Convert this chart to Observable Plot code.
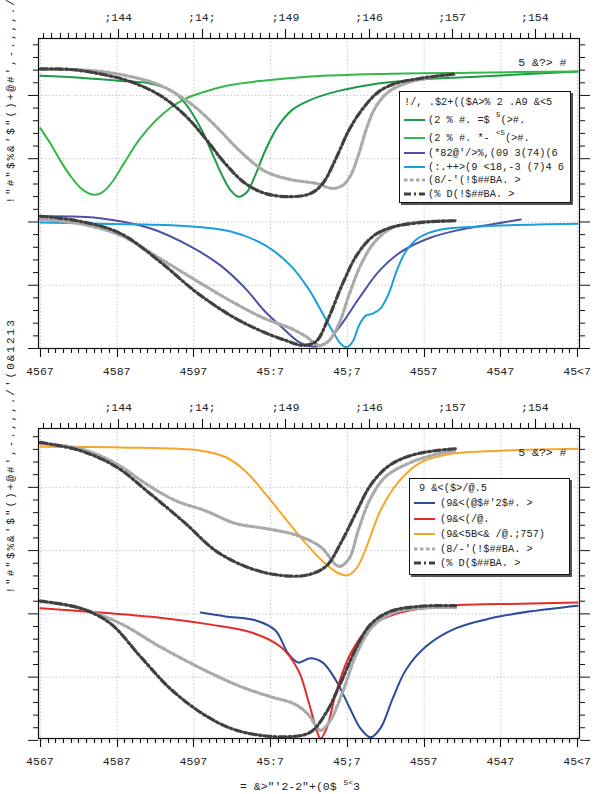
<!DOCTYPE html>
<html><head><meta charset="utf-8">
<script src="https://cdn.jsdelivr.net/npm/d3@7"></script>
<script src="https://cdn.jsdelivr.net/npm/@observablehq/plot@0.6"></script>
<style>
body{margin:0;background:#fff;}
#wrap{position:relative;width:596px;height:794px;overflow:hidden;font-family:"Liberation Mono",monospace;}
#wrap svg{display:block;}
.legend{position:absolute;background:#fff;border:1.3px solid #111;box-shadow:2px 2px 0 #555;font-size:10.3px;color:#222;box-sizing:border-box;}
.legend .row{position:absolute;left:0;white-space:nowrap;line-height:12px;}
.legend sup{font-size:7.5px;vertical-align:6px;line-height:0;}
</style></head><body><div id="wrap"></div>
<script>
// ---------- axis ticks / labels ----------
const bottomTicks = [0,10,20,30,40,50,60,70];
const bottomLabels = ["4567","4587","4597","45:7","45;7","4557","4547","45<7"];
const topTicks = [10.2,21.1,32.0,42.9,53.7,64.5];
const topLabels = [";144",";14;",";149",";146",";157",";154"];
const yMajor = [0,1,2,3,4];
const yLabel = "!\"#\"$%&'$\"()+@#',-.,,,./'(0&1213";
const cornerText = "5 &?> #";

// ---------- top panel series [x, y] ----------
const green1 = [[0,4.31],[5.2,4.28],[10.4,4.23],[14.3,4.19],[16.9,4.09],[18.9,3.87],[20.9,3.48],[22.4,3.08],[23.7,2.73],[24.8,2.50],[25.8,2.40],[26.9,2.47],[28.0,2.74],[29.3,3.13],[31.0,3.52],[32.9,3.78],[35.2,3.93],[38.5,4.06],[43.0,4.17],[49.5,4.25],[57.4,4.30],[70.0,4.38]];
const green2 = [[0,3.48],[1.3,3.24],[2.6,2.97],[3.9,2.73],[5.2,2.54],[6.3,2.45],[7.2,2.43],[8.2,2.48],[9.4,2.64],[11.1,2.97],[13.0,3.32],[15.0,3.60],[17.0,3.81],[18.9,3.95],[20.9,4.04],[24.1,4.15],[28.7,4.23],[35.2,4.30],[44.3,4.34],[56.1,4.36],[70.0,4.38]];
const grayA1 = [[0,4.41],[3.9,4.41],[7.8,4.38],[11.7,4.30],[15.6,4.16],[19.6,3.87],[22.8,3.52],[26.1,3.11],[29.3,2.80],[32.6,2.67],[35.9,2.61],[38.1,2.53],[39.4,2.58],[40.4,2.73],[41.5,3.08],[42.5,3.48],[43.7,3.82],[45.4,4.06],[47.6,4.19],[50.2,4.27],[54.1,4.34]];
const darkA1 = [[0,4.42],[3.9,4.41],[7.8,4.34],[11.7,4.22],[15.6,4.00],[18.9,3.68],[21.5,3.32],[24.1,2.92],[26.7,2.61],[29.3,2.45],[32.6,2.40],[35.2,2.45],[36.8,2.61],[38.5,3.00],[40.2,3.45],[42.0,3.79],[44.1,4.06],[46.3,4.19],[49.5,4.27],[54.1,4.34]];
const purple = [[0,2.09],[7.8,2.06],[14.3,1.90],[19.6,1.61],[23.5,1.31],[26.7,0.95],[29.3,0.58],[31.6,0.32],[33.6,0.11],[35.5,0.03],[37.2,0.09],[39.1,0.36],[41.5,0.79],[44.1,1.22],[46.9,1.52],[50.8,1.75],[54.8,1.88],[58.7,1.96],[62.6,2.04]];
const cyan = [[0,1.99],[7.8,1.97],[18.3,1.94],[24.8,1.85],[29.3,1.63],[32.6,1.31],[34.9,0.95],[36.8,0.55],[38.1,0.27],[39.1,0.08],[39.9,0.02],[40.7,0.11],[41.5,0.36],[42.4,0.52],[43.3,0.55],[44.3,0.63],[45.4,0.87],[46.4,1.22],[47.6,1.53],[49.3,1.75],[52.2,1.88],[57.4,1.93],[70.0,1.97]];
const grayB1 = [[0,2.04],[5.2,1.97],[10.4,1.79],[15.6,1.42],[20.9,1.03],[25.4,0.71],[29.3,0.47],[32.6,0.32],[34.6,0.19],[36.3,0.05],[37.5,0.11],[38.9,0.39],[40.2,0.84],[41.7,1.31],[43.4,1.66],[45.4,1.88],[47.6,1.97],[50.8,2.01],[54.1,2.02]];
const darkB1 = [[0,2.09],[5.2,2.01],[10.4,1.82],[15.6,1.37],[20.2,0.90],[24.8,0.52],[28.7,0.28],[31.9,0.13],[34.2,0.05],[35.9,0.11],[37.5,0.47],[39.4,1.03],[41.2,1.47],[43.3,1.77],[45.6,1.91],[49.5,1.99],[54.1,2.02]];

// ---------- bottom panel series [x, y] ----------
const orange = [[0,4.64],[10.4,4.63],[20.9,4.58],[24.1,4.48],[26.7,4.26],[29.3,3.90],[31.9,3.51],[34.6,3.11],[36.8,2.83],[38.7,2.65],[40.0,2.61],[41.2,2.72],[42.5,3.06],[44.3,3.63],[46.7,4.09],[49.5,4.39],[53.5,4.53],[60.0,4.58],[70.0,4.61]];
const grayA2 = [[0,4.69],[5.2,4.61],[9.8,4.38],[13.7,4.06],[17.6,3.79],[21.5,3.63],[25.4,3.43],[29.3,3.35],[33.2,3.25],[36.5,3.06],[38.9,2.75],[40.2,2.87],[41.5,3.35],[43.0,3.82],[45.0,4.17],[48.2,4.39],[51.5,4.52],[54.1,4.58]];
const darkA2 = [[0,4.71],[5.2,4.58],[9.8,4.33],[14.3,3.90],[18.9,3.43],[22.8,3.00],[26.7,2.75],[30.6,2.62],[34.6,2.61],[37.2,2.75],[39.1,3.11],[41.1,3.59],[43.0,4.03],[45.4,4.34],[48.2,4.50],[51.5,4.58],[54.1,4.61]];
const navy = [[20.9,2.02],[24.1,1.96],[28.0,1.90],[30.6,1.74],[32.3,1.37],[33.6,1.23],[35.2,1.30],[36.8,1.23],[38.5,0.95],[40.2,0.54],[41.7,0.19],[43.0,0.05],[44.3,0.19],[45.9,0.66],[47.6,1.11],[50.2,1.48],[54.1,1.77],[58.7,1.93],[63.9,2.04],[70.0,2.13]];
const red = [[0,2.09],[7.8,2.02],[15.6,1.94],[22.2,1.83],[27.4,1.71],[31.3,1.48],[33.6,1.11],[34.9,0.63],[36.0,0.16],[36.5,0.03],[37.3,0.19],[38.6,0.79],[40.4,1.37],[43.0,1.80],[46.9,2.02],[53.5,2.13],[62.6,2.16],[70.0,2.18]];
const grayB2 = [[0,2.20],[5.2,2.09],[10.4,1.85],[15.6,1.48],[20.9,1.14],[26.1,0.85],[30.0,0.69],[33.2,0.57],[34.9,0.41],[36.5,0.16],[37.8,0.32],[39.4,0.77],[41.2,1.37],[43.3,1.80],[45.9,2.01],[49.5,2.09],[54.1,2.10]];
const darkB2 = [[0,2.20],[5.2,2.09],[9.1,1.85],[13.0,1.33],[16.9,0.82],[20.9,0.44],[24.8,0.19],[28.7,0.08],[32.6,0.06],[35.2,0.13],[37.2,0.43],[39.1,0.90],[41.1,1.45],[43.0,1.83],[45.6,2.04],[49.5,2.12],[54.1,2.13]];

// ---------- legends ----------
const legend1Title = "!/, .$2+(($A>% 2 .A9 &<5";
const legend2Title = "9 &<($>/@.5";
const grayLabel = "(8/-'(!$##BA. >";
const darkLabel = "(% D(!$##BA. >";

// ---------- styles ----------
const C = {green1:"#1e9b48", green2:"#35b84a", purple:"#4a52a3", cyan:"#1b9fdb", navy:"#2a4b9b", red:"#e52a2a", orange:"#f7a529", gray:"#aaaaaa", dark:"#404040"};
const S = {
  solid: {strokeWidth: 2},
  gray: {strokeWidth: 3.2, strokeDasharray: "3.5,2.5"},
  dark: {strokeWidth: 3.2, strokeDasharray: "7,3,2,3"}
};
const FONT = "Liberation Mono, monospace";

function minorTicks(majors, n, lo, hi) {
  const step = (majors[1]-majors[0])/n, out = [];
  for (let v = majors[0]; v >= lo - 1e-9; v -= step) out.push(+v.toFixed(4));
  for (let v = majors[0] + step; v <= hi + 1e-9; v += step) out.push(+v.toFixed(4));
  return out.filter(v => !majors.some(m => Math.abs(m - v) < step*0.3));
}

function panel({height, marginTop, marginBottom, yDomain, series}) {
  const xDomain = [-0.25, 70.25];
  const line = (data, color, style) => Plot.line(data, {x: d => d[0], y: d => d[1], stroke: color, curve: "catmull-rom", ...style});
  const yMinor = minorTicks(yMajor, 5, 0, yDomain[1]);
  const tk = {stroke: "#111", strokeWidth: 1, label: null};
  const svg = Plot.plot({
    width: 596, height, marginLeft: 38, marginRight: 17, marginTop, marginBottom,
    x: {domain: xDomain, axis: null},
    y: {domain: yDomain, axis: null},
    style: {fontFamily: FONT, fontSize: "11.5px", color: "#222", background: "white", overflow: "visible"},
    marks: [
      Plot.gridX(bottomTicks, {stroke: "#999", strokeOpacity: 0.55, strokeDasharray: "1.5,2"}),
      Plot.gridY(yMajor, {stroke: "#999", strokeOpacity: 0.55, strokeDasharray: "1.5,2"}),
      ...series.map(([d, c, s]) => line(d, c, s)),
      Plot.frame({stroke: "#111", strokeWidth: 1.2}),
      Plot.axisY({...tk, anchor: "left", ticks: yMajor, tickSize: 10, tickFormat: () => ""}),
      Plot.axisY({...tk, anchor: "left", ticks: yMinor, tickSize: 5, tickFormat: () => ""}),
      Plot.axisY({...tk, anchor: "right", ticks: yMajor, tickSize: 10, tickFormat: () => ""}),
      Plot.axisY({...tk, anchor: "right", ticks: yMinor, tickSize: 5, tickFormat: () => ""}),
      Plot.text([yLabel], {frameAnchor: "left", rotate: -90, dx: -28, dy: 10, fontSize: 11, className: "ylab", fill: "#222"}),
      Plot.text([cornerText], {frameAnchor: "top-right", textAnchor: "end", dx: -13, dy: 19, fontSize: 11.5, fill: "#222"})
    ]
  });
  // x axes (bottom and top) drawn with Plot's own x scale
  const xs = svg.scale("x");
  const top = marginTop, bottom = height - marginBottom;
  const g = d3.select(svg).append("g").attr("class", "xaxes");
  const tick = (v, y1, y2) => {
    const x = Math.round(xs.apply(v)) + 0.5;
    g.append("line").attr("x1", x).attr("x2", x).attr("y1", y1).attr("y2", y2)
      .attr("stroke", "#111").attr("stroke-width", 1.1);
  };
  bottomTicks.forEach(v => tick(v, bottom, bottom + 9));
  minorTicks(bottomTicks, 10, 0, 70).forEach(v => tick(v, bottom, bottom + 5));
  topTicks.forEach(v => tick(v, top, top - 9));
  minorTicks(topTicks, 10, 0, 70).forEach(v => tick(v, top, top - 5));
  const lab = d3.select(svg).append("g").attr("font-family", FONT).attr("font-size", 11.5)
    .attr("fill", "#222").attr("text-anchor", "middle");
  bottomTicks.forEach((v, i) => lab.append("text").attr("x", xs.apply(v)).attr("y", bottom + 27).text(bottomLabels[i]));
  topTicks.forEach((v, i) => lab.append("text").attr("x", xs.apply(v)).attr("y", top - 17).text(topLabels[i]));
  return svg;
}

const wrap = document.getElementById("wrap");
const p1 = panel({height: 390, marginTop: 38, marginBottom: 42, yDomain: [0, 4.9], series: [
  [green1, C.green1, S.solid], [green2, C.green2, S.solid],
  [purple, C.purple, S.solid], [cyan, C.cyan, S.solid],
  [grayA1, C.gray, S.gray], [darkA1, C.dark, S.dark],
  [grayB1, C.gray, S.gray], [darkB1, C.dark, S.dark]
]});
const p2 = panel({height: 404, marginTop: 38, marginBottom: 56, yDomain: [0.03, 4.93], series: [
  [orange, C.orange, S.solid], [navy, C.navy, S.solid], [red, C.red, S.solid],
  [grayA2, C.gray, S.gray], [darkA2, C.dark, S.dark],
  [grayB2, C.gray, S.gray], [darkB2, C.dark, S.dark]
]});
wrap.appendChild(p1);
wrap.appendChild(p2);

// spread the vertical labels like the reference
d3.selectAll(".ylab text").style("letter-spacing", "2px");

// x-axis title under bottom panel
d3.select(p2).append("text")
  .attr("x", 300).attr("y", 400).attr("text-anchor", "middle")
  .attr("font-family", FONT).attr("font-size", 11.5).attr("fill", "#222")
  .call(t => {
    t.append("tspan").text("= &>\"'2-2\"+(0$ ");
    t.append("tspan").attr("dy", -5).attr("font-size", 8).text("5<");
    t.append("tspan").attr("dy", 5).text("3");
  });

function legend(left, top, width, height, title, titleDx, rows, rowTops, lineX, lineW, textX) {
  const box = document.createElement("div");
  box.className = "legend";
  Object.assign(box.style, {left: left+"px", top: top+"px", width: width+"px", height: height+"px"});
  const t = document.createElement("div");
  t.className = "row"; t.style.left = titleDx+"px"; t.style.top = (rowTops[0]-6)+"px"; t.textContent = title;
  box.appendChild(t);
  rows.forEach((r, i) => {
    const y = rowTops[i+1];
    const svg = d3.create("svg").attr("width", lineW).attr("height", 8)
      .style("position","absolute").style("left", lineX+"px").style("top", (y-4)+"px");
    svg.append("line").attr("x1",0).attr("x2",lineW).attr("y1",4).attr("y2",4)
      .attr("stroke", r.color).attr("stroke-width", r.style.strokeWidth)
      .attr("stroke-dasharray", r.style.strokeDasharray || null);
    box.appendChild(svg.node());
    const tx = document.createElement("div");
    tx.className = "row"; tx.style.left = textX+"px"; tx.style.top = (y-6)+"px"; tx.innerHTML = r.html;
    box.appendChild(tx);
  });
  wrap.appendChild(box);
}
const esc = s => s.replace(/&/g,"&amp;").replace(/</g,"&lt;").replace(/>/g,"&gt;");
legend(399, 91, 172, 112, legend1Title, 4, [
  {color: C.green1, style: S.solid, html: esc("(2 % #. =$ ") + "<sup>5</sup>" + esc("(>#.")},
  {color: C.green2, style: S.solid, html: esc("(2 % #. *- ") + "<sup>" + esc("<5") + "</sup>" + esc("(>#.")},
  {color: C.purple, style: S.solid, html: esc("(*82@'/>%,(09 3(74)(6")},
  {color: C.cyan, style: S.solid, html: esc("(:.++>(9 <18,-3 (7)4 6")},
  {color: C.gray, style: S.gray, html: esc(grayLabel)},
  {color: C.dark, style: S.dark, html: esc(darkLabel)}
], [10, 28, 46, 61, 75, 88, 102], 4, 21, 28);
legend(409, 478, 161, 97, legend2Title, 9, [
  {color: C.navy, style: S.solid, html: esc("(9&<(@$#'2$#. >")},
  {color: C.red, style: S.solid, html: esc("(9&<(/@.")},
  {color: C.orange, style: S.solid, html: esc("(9&<5B<& /@.;757)")},
  {color: C.gray, style: S.gray, html: esc(grayLabel)},
  {color: C.dark, style: S.dark, html: esc("(% D($##BA. >")}
], [9, 24, 40, 55, 70, 84], 4, 21, 30);
</script></body></html>
